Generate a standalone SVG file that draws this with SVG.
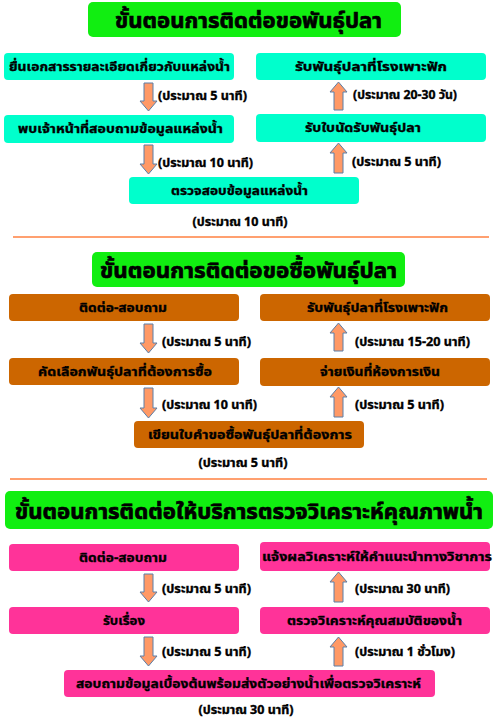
<svg xmlns="http://www.w3.org/2000/svg" width="500" height="719" viewBox="0 0 500 719">
<style>
text{font-family:"Noto Sans Thai","Noto Sans","DejaVu Sans",sans-serif;font-weight:bold;fill:#000;stroke:#000;stroke-width:0.35px}
.title{fill:#11ee11}
.cy{fill:#00ffcc}
.br{fill:#cc6600}
.pk{fill:#ff3399}
.tt{font-size:22px;text-anchor:middle;stroke-width:0.7px}
.bt{font-size:12.5px;text-anchor:middle}
.lb{font-size:11.5px}
.lbc{font-size:11.5px;text-anchor:middle}
.arr{fill:#ff9966;stroke:#5b7fa8;stroke-width:1}
.sep{stroke:#ffa070;stroke-width:2}
</style>
<rect width="500" height="719" fill="#fff"/>

<g id="section1">
<g id="title1"><rect class="title" x="88" y="2" width="313" height="35" rx="5"/><text class="tt" x="248.5" y="28" textLength="267" lengthAdjust="spacingAndGlyphs">ขั้นตอนการติดต่อขอพันธุ์ปลา</text></g>
<g id="s1a1"><rect class="cy" x="4" y="53" width="230" height="27" rx="4"/><text class="bt" x="119.5" y="71" textLength="221" lengthAdjust="spacingAndGlyphs">ยื่นเอกสารรายละเอียดเกี่ยวกับแหล่งน้ำ</text></g>
<g id="s1r1"><rect class="cy" x="256" y="53" width="230" height="27" rx="4"/><text class="bt" x="371" y="71" textLength="152" lengthAdjust="spacingAndGlyphs">รับพันธุ์ปลาที่โรงเพาะฟัก</text></g>
<g id="s1a2"><rect class="cy" x="4" y="115" width="230" height="28" rx="4"/><text class="bt" x="120.5" y="133" textLength="205" lengthAdjust="spacingAndGlyphs">พบเจ้าหน้าที่สอบถามข้อมูลแหล่งน้ำ</text></g>
<g id="s1r2"><rect class="cy" x="256" y="114" width="230" height="28" rx="4"/><text class="bt" x="363" y="132" textLength="116" lengthAdjust="spacingAndGlyphs">รับใบนัดรับพันธุ์ปลา</text></g>
<g id="s1c"><rect class="cy" x="129" y="177" width="230" height="27" rx="4"/><text class="bt" x="239.5" y="195" textLength="137" lengthAdjust="spacingAndGlyphs">ตรวจสอบข้อมูลแหล่งน้ำ</text></g>
</g>

<g id="section2">
<g id="title2"><rect class="title" x="92" y="252" width="313" height="35" rx="5"/><text class="tt" x="248.5" y="278" textLength="297" lengthAdjust="spacingAndGlyphs">ขั้นตอนการติดต่อขอซื้อพันธุ์ปลา</text></g>
<g id="s2l1"><rect class="br" x="9" y="294" width="230" height="27" rx="4"/><text class="bt" x="123" y="312" textLength="88" lengthAdjust="spacingAndGlyphs">ติดต่อ-สอบถาม</text></g>
<g id="s2r1"><rect class="br" x="260" y="294" width="230" height="27" rx="4"/><text class="bt" x="377.5" y="312" textLength="141" lengthAdjust="spacingAndGlyphs">รับพันธุ์ปลาที่โรงเพาะฟัก</text></g>
<g id="s2l2"><rect class="br" x="9" y="358" width="230" height="27" rx="4"/><text class="bt" x="125" y="376" textLength="174" lengthAdjust="spacingAndGlyphs">คัดเลือกพันธุ์ปลาที่ต้องการซื้อ</text></g>
<g id="s2r2"><rect class="br" x="260" y="358" width="230" height="28" rx="4"/><text class="bt" x="380" y="376" textLength="120" lengthAdjust="spacingAndGlyphs">จ่ายเงินที่ห้องการเงิน</text></g>
<g id="s2c"><rect class="br" x="134" y="421" width="230" height="27" rx="4"/><text class="bt" x="250" y="439" textLength="204" lengthAdjust="spacingAndGlyphs">เขียนใบคำขอซื้อพันธุ์ปลาที่ต้องการ</text></g>
</g>

<g id="section3">
<g id="title3"><rect class="title" x="5" y="491" width="488" height="38" rx="5"/><text class="tt" x="249" y="519" textLength="468" lengthAdjust="spacingAndGlyphs">ขั้นตอนการติดต่อให้บริการตรวจวิเคราะห์คุณภาพน้ำ</text></g>
<g id="s3l1"><rect class="pk" x="9" y="544" width="230" height="27" rx="4"/><text class="bt" x="123" y="562" textLength="88" lengthAdjust="spacingAndGlyphs">ติดต่อ-สอบถาม</text></g>
<g id="s3r1"><rect class="pk" x="260" y="542" width="230" height="29" rx="4"/><text class="bt" x="377" y="561" textLength="230" lengthAdjust="spacingAndGlyphs">แจ้งผลวิเคราะห์ให้คำแนะนำทางวิชาการ</text></g>
<g id="s3l2"><rect class="pk" x="9" y="607" width="230" height="27" rx="4"/><text class="bt" x="124" y="625" textLength="42" lengthAdjust="spacingAndGlyphs">รับเรื่อง</text></g>
<g id="s3r2"><rect class="pk" x="260" y="607" width="230" height="27" rx="4"/><text class="bt" x="374.5" y="625" textLength="175" lengthAdjust="spacingAndGlyphs">ตรวจวิเคราะห์คุณสมบัติของน้ำ</text></g>
<g id="s3c"><rect class="pk" x="64" y="670" width="371" height="27" rx="4"/><text class="bt" x="248.5" y="688" textLength="345" lengthAdjust="spacingAndGlyphs">สอบถามข้อมูลเบื้องต้นพร้อมส่งตัวอย่างน้ำเพื่อตรวจวิเคราะห์</text></g>
</g>

<g id="connectors">
<path class="arr" d="M144,83 H153 V101 H157 L148.5,111 L140,101 H144 Z"/>
<path class="arr" d="M144,145 H153 V164 H157 L148.5,174 L140,164 H144 Z"/>
<path class="arr" d="M334,110 H343 V92 H347 L338.5,82 L330,92 H334 Z"/>
<path class="arr" d="M334,173 H343 V153 H347 L338.5,143 L330,153 H334 Z"/>
<path class="arr" d="M144,324 H153 V343 H157 L148.5,353 L140,343 H144 Z"/>
<path class="arr" d="M144,388 H153 V408 H157 L148.5,418 L140,408 H144 Z"/>
<path class="arr" d="M334,351 H343 V333 H347 L338.5,323 L330,333 H334 Z"/>
<path class="arr" d="M334,417 H343 V397 H347 L338.5,387 L330,397 H334 Z"/>
<path class="arr" d="M144,574 H153 V592 H157 L148.5,602 L140,592 H144 Z"/>
<path class="arr" d="M144,637 H153 V656 H157 L148.5,666 L140,656 H144 Z"/>
<path class="arr" d="M334,602 H343 V582 H347 L338.5,572 L330,582 H334 Z"/>
<path class="arr" d="M334,666 H343 V647 H347 L338.5,637 L330,647 H334 Z"/>
<line class="sep" x1="13" y1="237" x2="489" y2="237"/>
<line class="sep" x1="10" y1="479" x2="487" y2="479"/>
</g>

<g id="labels">
<text class="lb" x="158" y="100" textLength="89" lengthAdjust="spacingAndGlyphs">(ประมาณ 5 นาที)</text>
<text class="lb" x="353" y="99" textLength="104" lengthAdjust="spacingAndGlyphs">(ประมาณ 20-30 วัน)</text>
<text class="lb" x="158" y="167" textLength="95" lengthAdjust="spacingAndGlyphs">(ประมาณ 10 นาที)</text>
<text class="lb" x="352" y="166" textLength="89" lengthAdjust="spacingAndGlyphs">(ประมาณ 5 นาที)</text>
<text class="lbc" x="240" y="226" textLength="95" lengthAdjust="spacingAndGlyphs">(ประมาณ 10 นาที)</text>
<text class="lb" x="162" y="346" textLength="89" lengthAdjust="spacingAndGlyphs">(ประมาณ 5 นาที)</text>
<text class="lb" x="355" y="346" textLength="115" lengthAdjust="spacingAndGlyphs">(ประมาณ 15-20 นาที)</text>
<text class="lb" x="162" y="409" textLength="95" lengthAdjust="spacingAndGlyphs">(ประมาณ 10 นาที)</text>
<text class="lb" x="355" y="409" textLength="89" lengthAdjust="spacingAndGlyphs">(ประมาณ 5 นาที)</text>
<text class="lbc" x="243" y="467" textLength="89" lengthAdjust="spacingAndGlyphs">(ประมาณ 5 นาที)</text>
<text class="lb" x="162" y="593" textLength="89" lengthAdjust="spacingAndGlyphs">(ประมาณ 5 นาที)</text>
<text class="lb" x="355" y="593" textLength="95" lengthAdjust="spacingAndGlyphs">(ประมาณ 30 นาที)</text>
<text class="lb" x="162" y="656" textLength="89" lengthAdjust="spacingAndGlyphs">(ประมาณ 5 นาที)</text>
<text class="lb" x="355" y="656" textLength="100" lengthAdjust="spacingAndGlyphs">(ประมาณ 1 ชั่วโมง)</text>
<text class="lbc" x="246" y="714" textLength="95" lengthAdjust="spacingAndGlyphs">(ประมาณ 30 นาที)</text>
</g>
</svg>
